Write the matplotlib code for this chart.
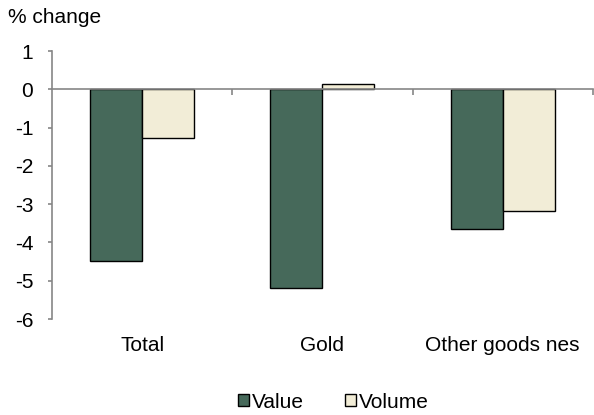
import numpy as np
import matplotlib.pyplot as plt
import matplotlib.transforms as mtransforms

plt.rcParams["font.family"] = ["Liberation Sans", "DejaVu Sans"]

categories = ["Total", "Gold", "Other goods nes"]
value = [-4.48, -5.19, -3.64]
volume = [-1.28, 0.14, -3.19]

VALUE_COLOR = "#46695a"
VOLUME_COLOR = "#f2edd7"
FS = 15

fig = plt.figure(figsize=(5.94, 4.15), dpi=100)
ax = fig.add_axes([0.0875, 0.2313, 0.9105, 0.6457])

x = np.arange(len(categories))
w = 0.288
ax.bar(x - w / 2, value, w, color=VALUE_COLOR, edgecolor="black", linewidth=1.0,
       label="Value", zorder=3)
ax.bar(x + w / 2, volume, w, color=VOLUME_COLOR, edgecolor="black", linewidth=1.0,
       label="Volume", zorder=3)

ax.set_xlim(-0.5, 2.5)
ax.set_ylim(-6, 1)
ax.set_yticks(range(-6, 2))
ax.set_yticklabels([str(v) for v in range(-6, 2)], fontsize=FS)

# x axis drawn at zero with ticks at category boundaries
ax.spines["bottom"].set_position(("data", 0))
ax.spines["bottom"].set_color("#868686")
ax.spines["bottom"].set_linewidth(1.2)
ax.spines["bottom"].set_zorder(4)
ax.spines["left"].set_color("#868686")
ax.spines["left"].set_linewidth(1.2)
ax.spines["top"].set_visible(False)
ax.spines["right"].set_visible(False)
ax.set_xticks([0.5, 1.5, 2.5])
ax.set_xticklabels([])
ax.tick_params(axis="x", direction="out", length=4, color="#868686", width=1.2)
ax.tick_params(axis="y", direction="out", length=3, color="#868686", width=1.2,
               pad=10.5)

trans = mtransforms.blended_transform_factory(ax.transData, ax.transAxes)
for i, c in enumerate(categories):
    ax.text(i, -0.097, c, transform=trans, ha="center", va="center", fontsize=FS)

fig.text(0.013, 0.958, "% change", fontsize=FS, ha="left", va="center")

ax.legend(loc="center", bbox_to_anchor=(0.52, -0.31), ncol=2, frameon=False,
          fontsize=FS, handlelength=0.53, handleheight=0.53, handletextpad=0.12,
          columnspacing=2.0, borderaxespad=0, borderpad=0)

fig.savefig("out.png", dpi=100)
